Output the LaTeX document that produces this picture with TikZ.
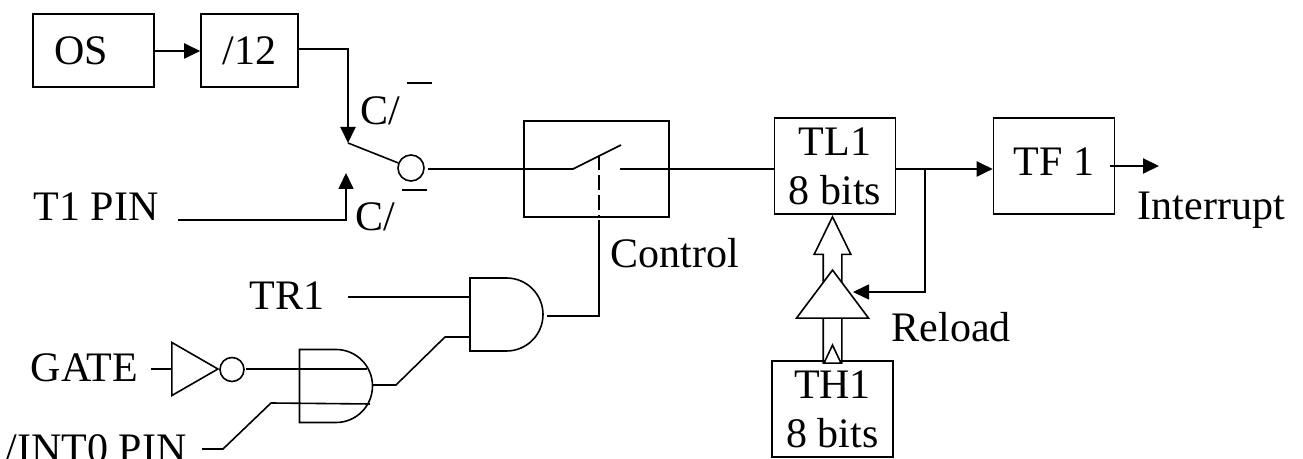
\documentclass[tikz,border=0pt]{standalone}
\usepackage{fontspec}
\setmainfont{Liberation Serif}
\usetikzlibrary{shapes.geometric, shapes.arrows, shapes.misc, arrows.meta, positioning}

\begin{document}
\begin{tikzpicture}[
      x=0.5pt, y=-0.5pt,
      font=\fontsize{21}{24.5}\selectfont,
      line width=0.8pt,
      box/.style={rectangle, draw, align=center, inner sep=0pt, minimum height=48pt, minimum width=60.5pt},
      lab/.style={anchor=base west, inner sep=0pt},
      bar/.style={line width=0.6pt},
      andgate/.style={rounded rectangle, rounded rectangle west arc=none, draw, inner sep=0pt, minimum height=36.5pt, minimum width=36.5pt},
      tri/.style={isosceles triangle, isosceles triangle stretches, draw, fill=white, inner sep=0pt},
      bub/.style={circle, draw, fill=white, inner sep=0pt, minimum size=12pt},
      ar/.style={-{Triangle[length=8pt, width=7.5pt]}, line width=1pt},
    ]
    \useasboundingbox (0,0) rectangle (1303,459);

    \node[box, minimum height=36.5pt] (os) at (93.5,50.5) {\hspace*{-12pt}OS};
    \node[box, minimum height=36.5pt, minimum width=48.5pt] (div) at (249.5,50.5) {/12};
    \node[box, minimum width=72.5pt] (sw) at (596.5,169) {};
    \node[box] (tl) at (835,166) {TL1\\8 bits};
    \node[box] (tf) at (1054,166) {\raisebox{4.5pt}{TF 1}};
    \node[single arrow, draw, fill=white, inner sep=4.25pt, shape border rotate=90, anchor=tip, minimum height=73pt, minimum width=17.5pt, single arrow head extend=4.5pt, single arrow head indent=0pt, single arrow tip angle=52] (bus) at (832.5,215) {};
    \node[box] (th) at (832.5,409) {\raisebox{-1pt}{TH1}\\\raisebox{-1pt}{8 bits}};
    \node[tri, shape border rotate=90, anchor=apex, minimum width=36pt, minimum height=24pt] (reload) at (832.5,268) {};
    \node[tri, shape border rotate=90, anchor=apex, minimum width=8.5pt, minimum height=9pt] (tip) at (832.5,343) {};

    \node[bub, minimum size=13pt] (sel) at (411,168) {};
    \node[andgate] (and1) at (506.5,314.5) {};
    \node[andgate] (and2) at (336,386) {};
    \node[tri, anchor=apex, minimum height=23pt, minimum width=26.5pt] (inv) at (220,369) {};
    \node[bub] (invb) at (232,369.5) {};

    \node[lab] (t1) at (33,221) {T1 PIN};
    \node[lab] (tr) at (249,310) {TR1};
    \node[lab] (gate) at (30,382) {GATE};
    \node[lab] (int) at (5,463) {/INT0 PIN};
    \node[lab] (cu) at (360,125) {C/};
    \node[lab] (cl) at (355,231) {C/};
    \node[lab] (ctl) at (610,268) {Control};
    \node[lab] (rl) at (891,342) {Reload};
    \node[lab] (irq) at (1137,220) {Interrupt};

    \coordinate (pole) at (348,143);
    \coordinate (tp) at (346,173);
    \coordinate (s1) at (573,169);
    \coordinate (s2) at (621,145);
    \coordinate (s3) at (620,169);
    \coordinate (d1) at (599,155);
    \coordinate (d2) at (599,220);
    \coordinate (j) at (925,169);
    \coordinate (o) at (1159,166);

    \draw[ar] (os.east |- 0,51) -- (div.west |- 0,51);
    \draw[ar] (div.east |- 0,49) -| (pole);
    \draw (pole) -- (sel);
    \draw[-{Triangle[length=8pt, width=7.5pt]}] (178,220) -| (tp);
    \draw[bar] (407,83) -- (432,83);
    \draw[bar] (402,190) -- (427,190);

    \draw (428,169) -- (s1) -- (s2);
    \draw (s3) -- (tl.west |- s3);
    \draw[dash pattern=on 7.5pt off 2.5pt] (d1) -- (sw.south -| d1);
    \draw (d2) |- (547,316);
    \draw[line width=1pt] (tl.east |- j) -- (j);
    \draw[ar] (j) -- (tf.west |- j);
    \draw[ar, line width=0.8pt] (j) |- (853,292);
    \draw[ar] (1110,166) -- (o);

    \draw (348,297) -- (and1.west |- 0,297);
    \draw (373,385) -- (396,385) -- (445,337) -- (and1.west |- 0,337);
    \draw (151,369) -- (inv.west |- 0,369);
    \draw (246,369) -- (367,369);
    \draw (202,449) -- (223,449) -- (271,403) -- (370,404);
  \end{tikzpicture}
\end{document}
